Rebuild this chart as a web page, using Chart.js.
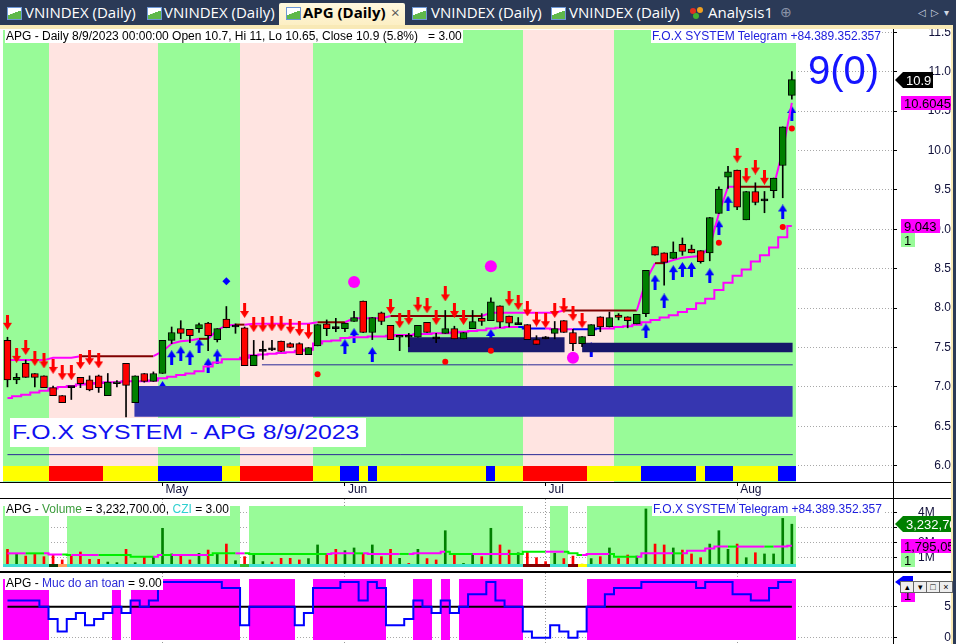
<!DOCTYPE html>
<html lang="en">
<head>
<meta charset="UTF-8">
<title>APG (Daily)</title>
<script src="https://cdn.jsdelivr.net/npm/chart.js"></script>
<style>
body { margin: 0; width: 956px; height: 644px; overflow: hidden; position: relative; background: #2b3a57; font-family: "Liberation Sans", Arial, sans-serif; }
.abs { position: absolute; }
#tabbar { left: 0; top: 0; width: 956px; height: 25px; background: #2b3a57; font-family: "Open Sans", "Noto Sans", sans-serif; font-size: 15px; color: #fff; }
.tabtxt { position: absolute; top: 2px; line-height: 20px; white-space: nowrap; }
.ico { position: absolute; top: 7px; width: 13px; height: 11px; border: 1px solid #6d97d6; background: linear-gradient(160deg, #fff 0 45%, #5fb84a 46% 100%); }
#active { left: 279px; top: 3px; width: 126px; height: 22px; background: linear-gradient(#fff8df, #fcefc4); border-radius: 2px 2px 0 0; }
#cream { left: 0; top: 25px; width: 953px; height: 4px; background: #f8e9b6; }
#pane { left: 0; top: 29px; width: 951px; height: 615px; background: #fff; }
#rborder { left: 951px; top: 25px; width: 2px; height: 619px; background: #f8e9b6; }
canvas { position: absolute; left: 0; }
.line { position: absolute; background: #000; }
.lbl { position: absolute; background: #fff; font-size: 12px; line-height: 13px; white-space: pre; padding: 0 1px; }
.btn { position: absolute; top: 581px; width: 12px; height: 10px; border: 1px solid #666; background: #eee; font-size: 9px; line-height: 10px; text-align: center; color: #000; }
</style>
</head>
<body>
<div id="tabbar" class="abs">
  <div class="ico" style="left:7px"></div><div class="tabtxt" style="left:25px">VNINDEX (Daily)</div>
  <div class="ico" style="left:147px"></div><div class="tabtxt" style="left:164px">VNINDEX (Daily)</div>
  <div id="active" class="abs"></div>
  <div class="ico" style="left:286px"></div><div class="tabtxt" style="left:303px;color:#000;font-weight:bold">APG (Daily)</div>
  <div class="tabtxt" style="left:391px;color:#555">×</div>
  <div class="ico" style="left:412px"></div><div class="tabtxt" style="left:431px">VNINDEX (Daily)</div>
  <div class="ico" style="left:551px"></div><div class="tabtxt" style="left:569px">VNINDEX (Daily)</div>
  <div class="abs" style="left:690px;top:8px;width:6px;height:6px;border-radius:3px;background:#e03020"></div>
  <div class="abs" style="left:697px;top:7px;width:6px;height:6px;border-radius:3px;background:#f0a020"></div>
  <div class="abs" style="left:693px;top:13px;width:6px;height:6px;border-radius:3px;background:#40b030"></div>
  <div class="tabtxt" style="left:708px">Analysis1</div>
  <div class="tabtxt" style="left:780px;color:#8a93a8;font-size:14px">⊕</div>
  <div class="tabtxt" style="left:918px;font-size:10px;color:#cfd6e2">◁&nbsp;&nbsp;▷&nbsp;&nbsp;▾</div>
</div>
<div id="cream" class="abs"></div>
<div id="pane" class="abs"></div>
<div id="rborder" class="abs"></div>

<canvas id="price" width="951" height="469" style="top:29px"></canvas>
<canvas id="vol" width="951" height="72" style="top:499px"></canvas>
<canvas id="safe" width="951" height="71" style="top:573px"></canvas>

<div class="line" style="left:0;top:482px;width:951px;height:1px"></div>
<div class="line" style="left:0;top:498px;width:951px;height:1px"></div>
<div class="line" style="left:0;top:571px;width:951px;height:2px"></div>
<div class="line" style="left:893px;top:29px;width:1px;height:615px"></div>

<div id="hdrMain" class="lbl" style="left:5px;top:30px"></div>
<div class="lbl" style="left:651px;top:30px;color:#2020dd">F.O.X SYSTEM Telegram +84.389.352.357</div>
<div class="abs" style="left:808px;top:47px;font-size:40px;line-height:46px;color:#1414ff">9(0)</div>
<div class="abs" style="left:10px;top:418px;width:356px;height:29px;background:#fff"></div>
<div class="abs" style="left:12px;top:419px;font-size:20px;line-height:27px;color:#1010f0;white-space:nowrap;transform:scaleX(1.24);transform-origin:0 0">F.O.X SYSTEM - APG 8/9/2023</div>

<div id="hdrVol" class="lbl" style="left:5px;top:503px"></div>
<div class="lbl" style="left:652px;top:503px;color:#2020dd">F.O.X SYSTEM Telegram +84.389.352.357</div>
<div id="hdrSafe" class="lbl" style="left:5px;top:577px"></div>

<div class="btn" style="left:900px">▴</div>
<div class="btn" style="left:913px">▾</div>
<div class="btn" style="left:926px">□</div>
<div class="btn" style="left:939px">×</div>

<script>
// ---------- data ----------
const months = ['May', 'Jun', 'Jul', 'Aug'];
const monthStart = [17, 37, 59, 80];          // bar index of first session of each month
const priceTicks = [6.0, 6.5, 7.0, 7.5, 8.0, 8.5, 9.0, 9.5, 10.0, 10.5, 11.0, 11.5];
const volTicks = [1, 2, 3, 4];                 // millions
const safeTicks = [0, 5];

const open = [7.59,7.09,7.30,7.17,7.14,6.99,6.89,6.99,7.12,7.09,
  7.14,6.89,7.04,7.30,6.80,7.17,7.07,7.17,7.59,7.74,
  7.73,7.74,7.81,7.60,7.86,7.76,7.75,7.27,7.45,7.47,
  7.58,7.55,7.55,7.41,7.52,7.80,7.74,7.74,7.83,8.09,
  7.69,7.94,7.78,7.63,7.63,7.63,7.82,7.61,7.68,7.74,
  7.61,7.74,7.87,7.84,8.03,7.90,7.79,7.79,7.60,7.61,
  7.68,7.84,7.69,7.55,7.65,7.89,7.76,7.91,7.89,7.80,
  7.93,8.78,8.70,8.63,8.81,8.75,8.73,8.70,9.20,9.66,
  9.75,9.12,9.48,9.36,9.49,9.81,10.70];
const high = [7.63,7.17,7.34,7.17,7.14,7.01,6.89,7.00,7.12,7.14,
  7.15,7.17,7.08,7.30,7.14,7.17,7.19,7.59,7.76,7.84,
  7.73,7.81,7.82,7.74,8.02,7.80,7.76,7.59,7.58,7.59,
  7.58,7.56,7.56,7.50,7.79,7.85,7.87,7.81,7.96,8.09,
  7.88,7.95,7.78,7.63,7.68,7.78,7.82,7.68,7.97,7.77,
  7.69,7.97,7.93,8.13,8.03,7.90,7.88,7.79,7.65,7.64,
  7.83,7.84,7.73,7.64,7.79,7.89,7.95,7.93,7.89,7.92,
  8.48,8.78,8.70,8.84,8.89,8.80,8.73,9.15,9.54,9.80,
  9.75,9.48,9.59,9.48,9.65,10.30,11.00];
const low = [7.00,7.04,7.12,7.00,6.99,6.89,6.80,6.84,6.99,6.95,
  6.93,6.89,7.00,6.62,6.80,7.06,7.07,7.17,7.55,7.61,
  7.56,7.69,7.46,7.57,7.75,7.68,7.27,7.27,7.35,7.46,
  7.45,7.50,7.41,7.41,7.52,7.65,7.70,7.70,7.83,7.69,
  7.60,7.79,7.60,7.46,7.51,7.63,7.69,7.56,7.68,7.61,
  7.61,7.74,7.78,7.84,7.75,7.76,7.79,7.60,7.54,7.61,
  7.61,7.69,7.46,7.51,7.65,7.70,7.76,7.85,7.75,7.80,
  7.89,8.67,8.29,8.63,8.67,8.70,8.57,8.60,9.20,9.52,
  9.25,9.12,9.31,9.21,9.40,9.40,10.65];
const close = [7.09,7.12,7.12,7.12,6.99,6.89,6.80,6.99,7.04,6.96,
  6.99,7.06,7.06,7.02,7.14,7.07,7.17,7.59,7.69,7.68,
  7.65,7.79,7.65,7.74,7.75,7.76,7.27,7.40,7.45,7.47,
  7.45,7.50,7.41,7.50,7.79,7.74,7.74,7.81,7.88,7.69,
  7.88,7.83,7.60,7.63,7.63,7.78,7.69,7.61,7.74,7.61,
  7.69,7.83,7.83,8.08,7.82,7.81,7.79,7.60,7.54,7.61,
  7.74,7.69,7.55,7.64,7.79,7.76,7.88,7.88,7.84,7.92,
  8.48,8.67,8.58,8.71,8.72,8.70,8.59,9.15,9.51,9.73,
  9.28,9.48,9.34,9.36,9.65,10.30,10.90];

// trailing stop (lower magenta) and resistance/upper line; flags: m = magenta, r = maroon, b = blue
const trailLow = [6.86,6.88,6.90,6.93,6.95,6.98,7.00,7.01,7.03,7.04,
  7.05,7.06,7.06,7.07,7.07,7.07,7.08,7.11,7.13,7.15,
  7.17,7.20,7.26,7.31,7.35,7.35,7.37,7.40,7.41,7.42,
  7.43,7.44,7.46,7.47,7.55,7.58,7.59,7.62,7.63,7.63,
  7.64,7.64,7.65,7.66,7.66,7.67,7.67,7.68,7.68,7.69,
  7.70,7.71,7.72,7.74,7.75,7.76,7.76,7.74,7.74,7.74,
  7.73,7.73,7.73,7.73,7.73,7.74,7.74,7.76,7.77,7.79,
  7.82,7.85,7.88,7.91,7.95,7.99,8.06,8.12,8.23,8.32,
  8.41,8.49,8.59,8.67,8.77,8.90,9.043];
const trailFlag = 'mmmmmmmmmmmmmmmmmmmmmmmmmmmmmmmmmmmmmmmmmmmmmmmmmmmmmmmmbbbbmmbbbbmmmmmmmmmmmmmmmmmmmmmmm';
const upperLine = [7.34,7.34,7.34,7.34,7.34,7.37,7.37,7.37,7.39,7.39,
  7.39,7.39,7.39,7.39,7.39,7.39,7.39,7.45,7.55,7.58,
  7.59,7.61,7.61,7.72,7.78,7.79,7.79,7.80,7.80,7.80,
  7.80,7.80,7.80,7.80,7.82,7.82,7.82,7.82,7.87,7.87,
  7.87,7.87,7.90,7.90,7.90,7.90,7.90,7.90,7.90,7.90,
  7.90,7.90,7.90,7.94,7.94,7.94,7.94,7.94,7.94,7.94,
  7.94,7.97,7.97,7.97,7.97,7.97,7.97,7.97,7.97,7.97,
  8.35,8.57,8.57,8.61,8.64,8.65,8.66,8.78,9.20,9.54,
  9.54,9.54,9.54,9.54,9.54,10.00,10.6045];
const upperFlag = 'mmmmmmmmrrrrrrrrrmmmmrrmmrrmmmmmmmrrrrmmmmrrrrrrrrrrrmmmmmmmmrrrrrrrrrmrrmmmmmmmrrrrrmm';

// signal marks: [bar, price]
const buyArrows = [[17,6.98],[18,7.37],[19,7.42],[20,7.37],[21,7.52],[22,7.27],[23,7.38],[37,7.51],[38,7.65],
  [40,7.41],[53,7.64],[64,7.47],[70,7.71],[71,8.33],[72,8.09],[73,8.45],[74,8.49],[75,8.49],[77,8.41],
  [78,9.02],[79,9.33],[85,9.22],[86,10.47]];
const sellArrows = [[0,7.82],[1,7.40],[2,7.50],[3,7.36],[4,7.33],[5,7.26],[6,7.18],[7,7.18],[8,7.32],[9,7.37],
  [10,7.33],[26,7.97],[27,7.79],[28,7.79],[29,7.80],[30,7.80],[31,7.77],[32,7.74],[33,7.70],[42,8.02],
  [43,7.84],[44,7.88],[45,8.05],[46,8.03],[47,7.88],[48,8.18],[49,7.97],[50,7.88],[55,8.12],[56,8.07],
  [57,7.99],[58,7.86],[59,7.84],[60,7.97],[61,8.03],[62,7.93],[63,7.84],[80,9.94],[81,9.68],[82,9.79],[83,9.66]];
const redDots = [[34,7.16],[48,7.32],[53,7.46],[78,8.83],[85,9.03],[86,10.28]];
const pinkDots = [[38,8.33],[53,8.53],[62,7.37]];
const blueDiamonds = [[24,8.34]];

// support zones [fromBar, toBar, top, bottom] and level lines [fromBar, toBar, price]
const zones = [[13.9, 86.1, 7.01, 6.62], [43.9, 61.1, 7.63, 7.44], [63.0, 86.1, 7.56, 7.44]];
const levels = [[27.9, 86.1, 7.28], [0, 86.1, 6.14]];

// background trend regions and signal strip [fromBar, toBar, state]
const trendRegions = [[-0.5,4.5,'up'],[4.5,16.5,'down'],[16.5,25.5,'up'],[25.5,33.5,'down'],[33.5,56.5,'up'],[56.5,66.5,'down'],[66.5,86.5,'up']];
const signalStrip = [[-0.5,4.5,'y'],[4.5,10.5,'r'],[10.5,16.5,'y'],[16.5,23.5,'b'],[23.5,25.5,'y'],[25.5,33.5,'r'],
  [33.5,36.5,'y'],[36.5,38.5,'b'],[38.5,39.5,'y'],[39.5,40.5,'b'],[40.5,52.5,'y'],[52.5,53.5,'b'],[53.5,56.5,'y'],
  [56.5,63.5,'r'],[63.5,69.5,'y'],[69.5,75.5,'b'],[75.5,76.5,'y'],[76.5,79.5,'b'],[79.5,84.5,'y'],[84.5,86.5,'b']];

// volume (millions)
const volume = [1.56,1.25,1.11,1.29,1.07,1.18,0.85,1.11,1.38,0.89,
  0.89,0.71,0.67,1.56,0.67,1.07,1.07,2.96,1.25,1.18,
  0.85,1.29,1.51,1.29,1.91,0.80,1.07,1.18,0.74,0.71,
  0.96,0.96,0.85,0.94,1.85,1.25,1.56,1.47,1.65,1.29,
  1.85,1.07,1.56,0.96,0.62,1.56,0.94,0.85,2.80,1.18,
  0.62,1.29,1.07,2.96,1.85,1.51,1.33,1.40,1.00,0.74,
  1.29,0.94,1.11,0.58,0.94,1.07,1.65,0.94,1.18,1.11,
  4.25,1.91,1.85,1.65,1.51,1.25,1.00,1.91,2.80,1.56,
  1.91,1.00,1.33,1.25,1.25,3.62,3.2327];
const volFlag = 'rgrrrrrrrrrggrgrgggrrgrgrgrggrrrrggrrggrgrrgrgrrgrggrgrrgrrrgrrygrgrrggrrgrrrgggrgrgggg';
const volAvg = [1.29,1.29,1.29,1.29,1.29,1.22,1.22,1.18,1.18,1.18,
  1.18,1.18,1.18,1.18,1.07,1.07,1.07,1.18,1.18,1.18,
  1.18,1.18,1.18,1.29,1.29,1.29,1.29,1.25,1.25,1.25,
  1.25,1.25,1.25,1.25,1.25,1.25,1.29,1.29,1.29,1.29,
  1.25,1.25,1.25,1.25,1.25,1.29,1.29,1.29,1.40,1.25,
  1.25,1.25,1.25,1.25,1.25,1.25,1.25,1.40,1.40,1.40,
  1.40,1.40,1.29,1.18,1.25,1.25,1.25,1.07,1.07,1.07,
  1.29,1.29,1.29,1.29,1.29,1.47,1.47,1.62,1.74,1.74,
  1.74,1.74,1.74,1.74,1.74,1.74,1.795];
const volAvgFlag = 'mmmggmmgmmmggggggmgmmmmgggmgggggggggmmmgmmmmgmmmmgggmmmmggggmmggmmmgggmmmmgmmmmmgmmmgmm';
const volRegions = [[-0.5,4.5,'on'],[6.5,25.5,'on'],[26.5,56.5,'on'],[59.5,61.5,'on'],[63.5,86.5,'on']];
const cziStrip = [[-0.5,86.5,'c'],[4.5,5.5,'k'],[5.5,6.5,'o'],[25.5,26.5,'g'],[56.5,59.5,'d'],[61.5,62.5,'d'],[62.5,63.5,'y']];

// "Muc do an toan" (safety level 0..10)
const safety = [6,6,6,6,5,3,1,3,4,2, 3,4,5,4,6,5,6,9,9,9,
  9,9,9,9,8,8,2,5,5,5, 5,5,2,4,8,8,8,9,9,6,
  9,8,2,2,3,6,5,4,6,4, 5,7,7,9,6,5,5,1,0,0,
  2,1,0,1,5,5,7,8,8,8, 9,9,9,9,9,9,8,9,9,9,
  7,7,6,6,8,9,9];
const safetyLevel = 5;

// ---------- drawing ----------
Chart.defaults.font.family = '"Liberation Sans", Arial, sans-serif';
Chart.defaults.font.size = 12;
Chart.defaults.color = '#10103a';
Chart.defaults.animation = false;
Chart.defaults.events = [];
Chart.defaults.plugins.legend.display = false;
Chart.defaults.plugins.tooltip.enabled = false;

const last = close.length - 1;
const bars = close.map((v, i) => i);
const pts = arr => arr.map((v, i) => ({x: i, y: v}));
const marks = list => list.map(([x, y]) => ({x, y}));
const X_MIN = -0.49, X_MAX = 97.09;

function paintLayers(chart, layers) {
  if (!layers) return;
  const {ctx, chartArea: ca, scales: {x, y}} = chart;
  ctx.save();
  for (const L of layers) {
    let top = L.top !== undefined ? y.getPixelForValue(L.top) : ca.top;
    let bottom = L.bottom !== undefined ? y.getPixelForValue(L.bottom) : ca.bottom;
    if (L.strip) { top = ca.bottom - L.strip[0]; bottom = ca.bottom - L.strip[1]; }
    top = Math.round(top); bottom = Math.round(bottom);
    for (const [a, b, s] of L.ranges) {
      const x0 = Math.round(x.getPixelForValue(a)), x1 = Math.round(x.getPixelForValue(b));
      ctx.fillStyle = L.colors[s];
      ctx.fillRect(x0, top, x1 - x0, bottom - top);
    }
  }
  ctx.restore();
}
const bandPlugin = {
  id: 'bands',
  beforeDatasetsDraw(chart, args, opts) { paintLayers(chart, opts.under); },
  afterDatasetsDraw(chart, args, opts) { paintLayers(chart, opts.over); }
};

// value tags on the right axis
const tagPlugin = {
  id: 'tags',
  afterDraw(chart, args, opts) {
    const {ctx, chartArea} = chart;
    const yS = chart.scales.y;
    ctx.save();
    ctx.font = '13px "Liberation Sans", Arial, sans-serif';
    ctx.textBaseline = 'middle';
    let prevBottom = 0;
    for (const t of opts.items) {
      const h = t.h || 14;
      const cy = t.value !== undefined ? Math.round(yS.getPixelForValue(t.value)) : prevBottom + h / 2;
      const left = chartArea.right + (t.pointer ? 10 : 8);
      const w = t.w || Math.ceil(ctx.measureText(t.text).width) + 6;
      ctx.fillStyle = t.bg;
      ctx.beginPath();
      if (t.pointer) {
        ctx.moveTo(chartArea.right + 2, cy);
        ctx.lineTo(left, cy - h / 2);
        ctx.lineTo(left + w, cy - h / 2);
        ctx.lineTo(left + w, cy + h / 2);
        ctx.lineTo(left, cy + h / 2);
        ctx.closePath();
      } else {
        ctx.rect(left, cy - h / 2, w, h);
      }
      ctx.fill();
      ctx.fillStyle = t.fg;
      ctx.fillText(t.text, left + 3, cy + 1);
      prevBottom = cy + h / 2;
    }
    ctx.restore();
  }
};

function arrowImage(color, up) {
  const c = document.createElement('canvas');
  c.width = 9; c.height = 15;
  const g = c.getContext('2d');
  g.fillStyle = color;
  g.beginPath();
  if (up) {
    g.moveTo(4.5, 0); g.lineTo(9, 7); g.lineTo(6, 7); g.lineTo(6, 15); g.lineTo(3, 15); g.lineTo(3, 7); g.lineTo(0, 7);
  } else {
    g.moveTo(3, 0); g.lineTo(6, 0); g.lineTo(6, 8); g.lineTo(9, 8); g.lineTo(4.5, 15); g.lineTo(0, 8); g.lineTo(3, 8);
  }
  g.closePath();
  g.fill();
  return c;
}

function xAxis(labels) {
  return {
    type: 'linear', min: X_MIN, max: X_MAX, offset: false,
    afterBuildTicks: s => { s.ticks = monthStart.map(v => ({value: v})); },
    afterFit: s => { s.height = labels ? 16 : 0; s.paddingLeft = 0; s.paddingRight = 0; },
    grid: { offset: false, drawOnChartArea: !labels, color: '#999', drawTicks: labels, tickLength: 4, tickColor: '#000' },
    border: { display: false, dash: [1, 2] },
    ticks: { display: labels, autoSkip: false, maxRotation: 0, align: 'start', labelOffset: 3, padding: -2,
      font: { size: 12, lineHeight: 1 }, color: '#10103a',
      callback: v => months[monthStart.indexOf(v)] }
  };
}
// 'far' puts labels flush with the right edge; 'near' starts them pad px after the tick mark
function yAxis(min, max, tickVals, fmt, align, pad) {
  return {
    position: 'right', min, max, beginAtZero: false,
    afterBuildTicks: s => { s.ticks = tickVals.map(v => ({value: v})); },
    // fixed axis width; drop the label padding Chart.js would add above/below the plot
    afterFit: s => { s.width = 58; s.paddingTop = 0; s.paddingBottom = 0; },
    grid: { color: '#a8a8a8', tickLength: 4, tickColor: '#000' },
    border: { display: false, dash: [1, 2] },
    ticks: { crossAlign: align, padding: pad, callback: fmt, color: '#10103a', font: { size: 12 } }
  };
}

const lineColor = (flags, code, color, base) => ctx =>
  (flags[ctx.p0DataIndex] === code && flags[ctx.p1DataIndex] === code) ? color : base;

// ----- price pane -----
const candleColor = bars.map(i => close[i] > open[i] ? '#008000' : close[i] < open[i] ? '#ff0000' : '#000');
const zoneColors = ['#3636b0', '#1a1a6e', '#16166a'];
new Chart(document.getElementById('price'), {
  type: 'bar',
  data: {
    datasets: [
      { type: 'line', showLine: false, data: marks(pinkDots), pointStyle: 'circle', pointRadius: 6, pointBackgroundColor: '#ff00ff', pointBorderWidth: 0 },
      { type: 'line', showLine: false, data: marks(redDots), pointStyle: 'circle', pointRadius: 3, pointBackgroundColor: '#ff0000', pointBorderWidth: 0 },
      { type: 'line', showLine: false, data: marks(blueDiamonds), pointStyle: 'rectRot', pointRadius: 4, pointBackgroundColor: '#0000ff', pointBorderWidth: 0 },
      { type: 'line', showLine: false, data: marks(sellArrows), pointStyle: arrowImage('#ff0000', false), pointRadius: 5 },
      { type: 'bar', grouped: false, data: bars.map(i => ({x: i, y: [Math.min(open[i], close[i]), Math.max(open[i], close[i])]})),
        backgroundColor: candleColor, borderColor: '#000', borderWidth: 1, borderSkipped: false, barThickness: 7, minBarLength: 2 },
      { type: 'bar', grouped: false, data: bars.map(i => ({x: i, y: [low[i], high[i]]})), backgroundColor: '#000', barThickness: 1 },
      { type: 'line', data: pts(upperLine), borderWidth: 2, pointRadius: 0, borderColor: '#ff00ff',
        segment: { borderColor: lineColor(upperFlag, 'r', '#800000', '#ff00ff') } },
      { type: 'line', data: pts(trailLow), stepped: 'middle', borderWidth: 2, pointRadius: 0, borderColor: '#ff00ff',
        segment: { borderColor: lineColor(trailFlag, 'b', '#0000ff', '#ff00ff') } },
      ...levels.map(([a, b, v]) => ({ type: 'line', data: [{x: a, y: v}, {x: b, y: v}], borderColor: '#2a2a96', borderWidth: 1, pointRadius: 0 })),
      ...zones.map(([a, b, top, bot], k) => ({ type: 'line', data: [{x: a, y: top}, {x: b, y: top}], fill: {value: bot},
        backgroundColor: zoneColors[k], borderWidth: 0, pointRadius: 0 })),
      { type: 'line', showLine: false, data: marks(buyArrows), pointStyle: arrowImage('#0000ff', true), pointRadius: 5 }
    ]
  },
  options: {
    responsive: false,
    layout: { autoPadding: false, padding: { left: 3, top: 1, right: 0, bottom: 0 } },
    scales: { x: xAxis(true), y: yAxis(5.793, 11.529, priceTicks, v => v.toFixed(1), 'far', 0) },
    plugins: {
      bands: {
        under: [
          { ranges: trendRegions, colors: { up: '#98fb98', down: '#ffe4e1' } },
          { ranges: signalStrip, strip: [16, 1], colors: { y: '#ffff00', r: '#ff0000', b: '#0000ff' } }
        ]
      },
      tags: {
        items: [
          { value: close[last], text: String(close[last]), bg: '#000', fg: '#fff', pointer: true, h: 16, w: 30 },
          { value: upperLine[last], text: String(upperLine[last]), bg: '#ff00ff', fg: '#000' },
          { value: trailLow[last], text: String(trailLow[last]), bg: '#ff00ff', fg: '#000' },
          { text: '1', bg: '#98fb98', fg: '#000' }
        ]
      }
    }
  },
  plugins: [bandPlugin, tagPlugin]
});

// ----- volume pane -----
const volColors = { g: '#008000', r: '#ff0000', y: '#e0e000' };
new Chart(document.getElementById('vol'), {
  type: 'bar',
  data: {
    datasets: [
      { type: 'line', data: pts(volAvg), stepped: 'middle', borderWidth: 2, pointRadius: 0, borderColor: '#00ee00',
        segment: { borderColor: ctx => volAvgFlag[ctx.p1DataIndex] === 'm' ? '#ff00ff' : '#00ee00' } },
      { type: 'bar', grouped: false, data: pts(volume), backgroundColor: bars.map(i => volColors[volFlag[i]]), barThickness: 2 }
    ]
  },
  options: {
    responsive: false,
    layout: { autoPadding: false, padding: { left: 3, top: 0, right: 0, bottom: 4 } },
    scales: { x: xAxis(false), y: yAxis(0.38, 4.913, volTicks, v => v + 'M', 'near', 21) },
    plugins: {
      bands: {
        under: [{ ranges: volRegions, top: 4.47, colors: { on: '#98fb98' } }],
        over: [{ ranges: cziStrip, strip: [3, 0], colors: { c: '#40e0d0', k: '#0a3a0a', o: '#ffa060', g: '#33bb33', d: '#800000', y: '#ffff00' } }]
      },
      tags: {
        items: [
          { value: volume[last], text: Math.round(volume[last] * 1e6).toLocaleString('en-US'), bg: '#008000', fg: '#fff', pointer: true, h: 16, w: 60 },
          { value: volAvg[last], text: Math.round(volAvg[last] * 1e6 + 53).toLocaleString('en-US'), bg: '#ff00ff', fg: '#000', w: 60 },
          { text: '1', bg: '#98fb98', fg: '#000' }
        ]
      }
    }
  },
  plugins: [bandPlugin, tagPlugin]
});

// ----- safety pane -----
const safeBlocks = [];
safety.forEach((v, i) => {
  if (v < safetyLevel) return;
  const prev = safeBlocks[safeBlocks.length - 1];
  if (prev && prev[1] === i - 0.5) prev[1] = i + 0.5;
  else safeBlocks.push([i - 0.5, i + 0.5, 'on']);
});
new Chart(document.getElementById('safe'), {
  type: 'line',
  data: {
    datasets: [
      { data: pts(safety), stepped: 'middle', borderColor: '#0000ff', borderWidth: 2, pointRadius: 0 },
      { data: [{x: 0, y: safetyLevel}, {x: last, y: safetyLevel}], borderColor: '#000', borderWidth: 2, pointRadius: 0 }
    ]
  },
  options: {
    responsive: false,
    layout: { autoPadding: false, padding: { left: 3, top: 0, right: 0, bottom: 0 } },
    scales: { x: xAxis(false), y: yAxis(-1.016, 10.435, safeTicks, v => String(v), 'far', 0) },
    plugins: {
      bands: { under: [{ ranges: safeBlocks, top: 9.47, bottom: -0.37, colors: { on: '#ff00ff' } }] },
      tags: {
        items: [
          { value: safety[last], text: '', bg: '#0000ff', fg: '#fff', pointer: true, h: 12, w: 10 },
          { text: '1', bg: '#ff00ff', fg: '#000', h: 14 }
        ]
      }
    }
  },
  plugins: [bandPlugin, tagPlugin]
});

// ----- pane headers -----
const pct = ((close[last] / close[last - 1] - 1) * 100).toFixed(1);
document.getElementById('hdrMain').textContent =
  `APG - Daily 8/9/2023 00:00:00 Open ${open[last]}, Hi ${high[last]}, Lo ${low[last]}, Close ${close[last]} (${pct}%)   = 3.00`;
document.getElementById('hdrVol').innerHTML =
  `APG - <span style="color:#3c9c3c">Volume</span> = ${Math.round(volume[last] * 1e6).toLocaleString('en-US')}.00, <span style="color:#30d0d0">CZI</span> = 3.00`;
document.getElementById('hdrSafe').innerHTML =
  `APG - <span style="color:#2a2ad8">Muc do an toan</span> = ${safety[last].toFixed(2)}`;
</script>
</body>
</html>
